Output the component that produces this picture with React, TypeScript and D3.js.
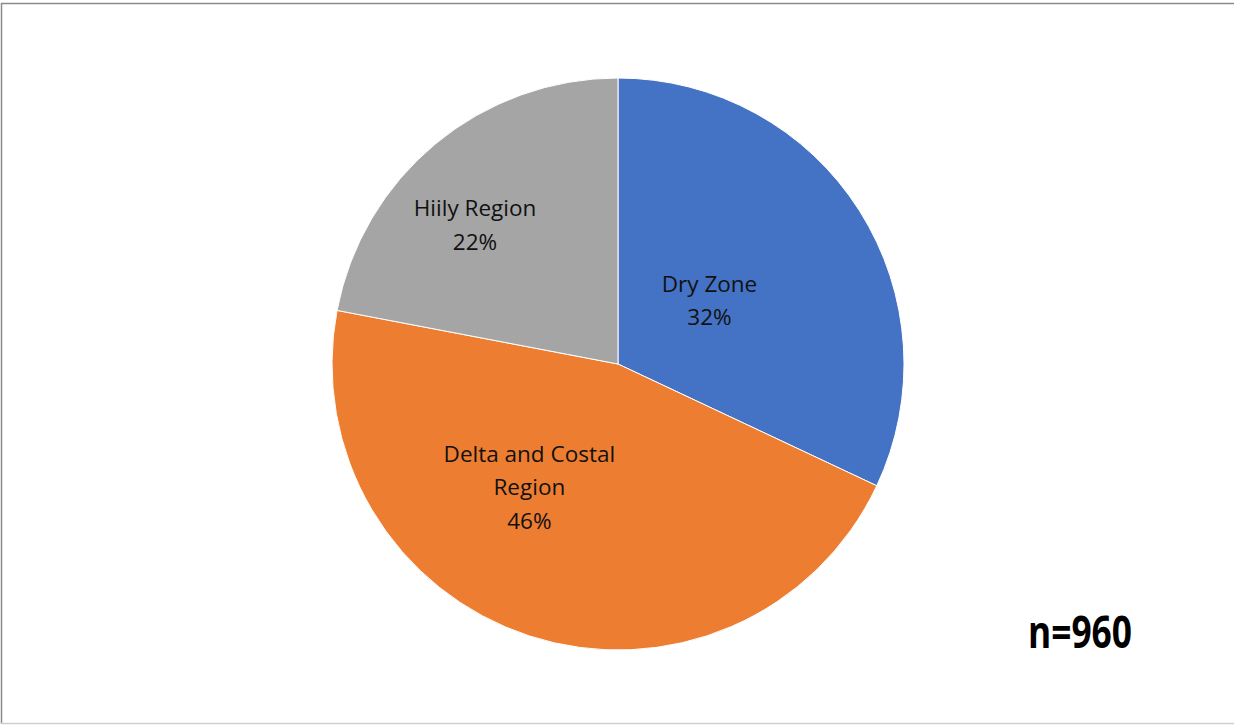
import React from "react";
import * as d3 from "d3";

const categories = ["Dry Zone", "Delta and Costal Region", "Hiily Region"];
const values = [32, 46, 22];
const labelLines = [["Dry Zone", "32%"], ["Delta and Costal", "Region", "46%"], ["Hiily Region", "22%"]];
const colors = ["#4472C4", "#ED7D31", "#A5A5A5"];
// label anchor offsets relative to pie centre, as fraction of radius
const labelAnchors = [[0.32, -0.225], [-0.31, 0.428], [-0.5, -0.49]];
const sampleNote = "n=960";

const W = 1234;
const H = 725;
const cx = 618;
const cy = 364;
const R = 286;

export default function App() {
  const pie = d3.pie<number>().sort(null).value((d) => d);
  const arcs = pie(values);
  const arc = d3.arc<d3.PieArcDatum<number>>().innerRadius(0).outerRadius(R);
  const lineH = 33.5;
  return (
    <div style={{ position: "absolute", left: 0, top: 0, width: W, height: H, background: "#fff" }}>
      <svg width={W} height={H} style={{ display: "block" }}>
        <rect x={0} y={0} width={W} height={H} fill="#fff" />
        <line x1={1} y1={3.5} x2={W} y2={3.5} stroke="#8a8a8a" strokeWidth={1.5} />
        <line x1={1.5} y1={3} x2={1.5} y2={724} stroke="#8a8a8a" strokeWidth={1.5} />
        <line x1={1} y1={723.5} x2={W} y2={723.5} stroke="#cfcfcf" strokeWidth={1.5} />
        <g transform={`translate(${cx},${cy})`}>
          {arcs.map((a, i) => (
            <path key={categories[i]} d={arc(a) || ""} fill={colors[i]} stroke="#fff" strokeWidth={1} />
          ))}
          {arcs.map((a, i) => {
            const lines = labelLines[i];
            const [fx, fy] = labelAnchors[i];
            const x = fx * R;
            const y = fy * R;
            const y0 = y - ((lines.length - 1) * lineH) / 2;
            return (
              <text
                key={"l" + i}
                x={x}
                textAnchor="middle"
                fontFamily="'Open Sans', 'Noto Sans', sans-serif"
                fontSize={22.5}
                fill="#111"
                dominantBaseline="central"
              >
                {lines.map((t, j) => (
                  <tspan key={j} x={x} y={y0 + j * lineH}>
                    {t}
                  </tspan>
                ))}
              </text>
            );
          })}
        </g>
        <text
          x={1028}
          y={648}
          fontFamily="'Open Sans', 'Noto Sans', sans-serif"
          fontWeight="bold"
          fontSize={44}
          textLength={104}
          lengthAdjust="spacingAndGlyphs"
          fill="#000"
        >
          {sampleNote}
        </text>
      </svg>
    </div>
  );
}
